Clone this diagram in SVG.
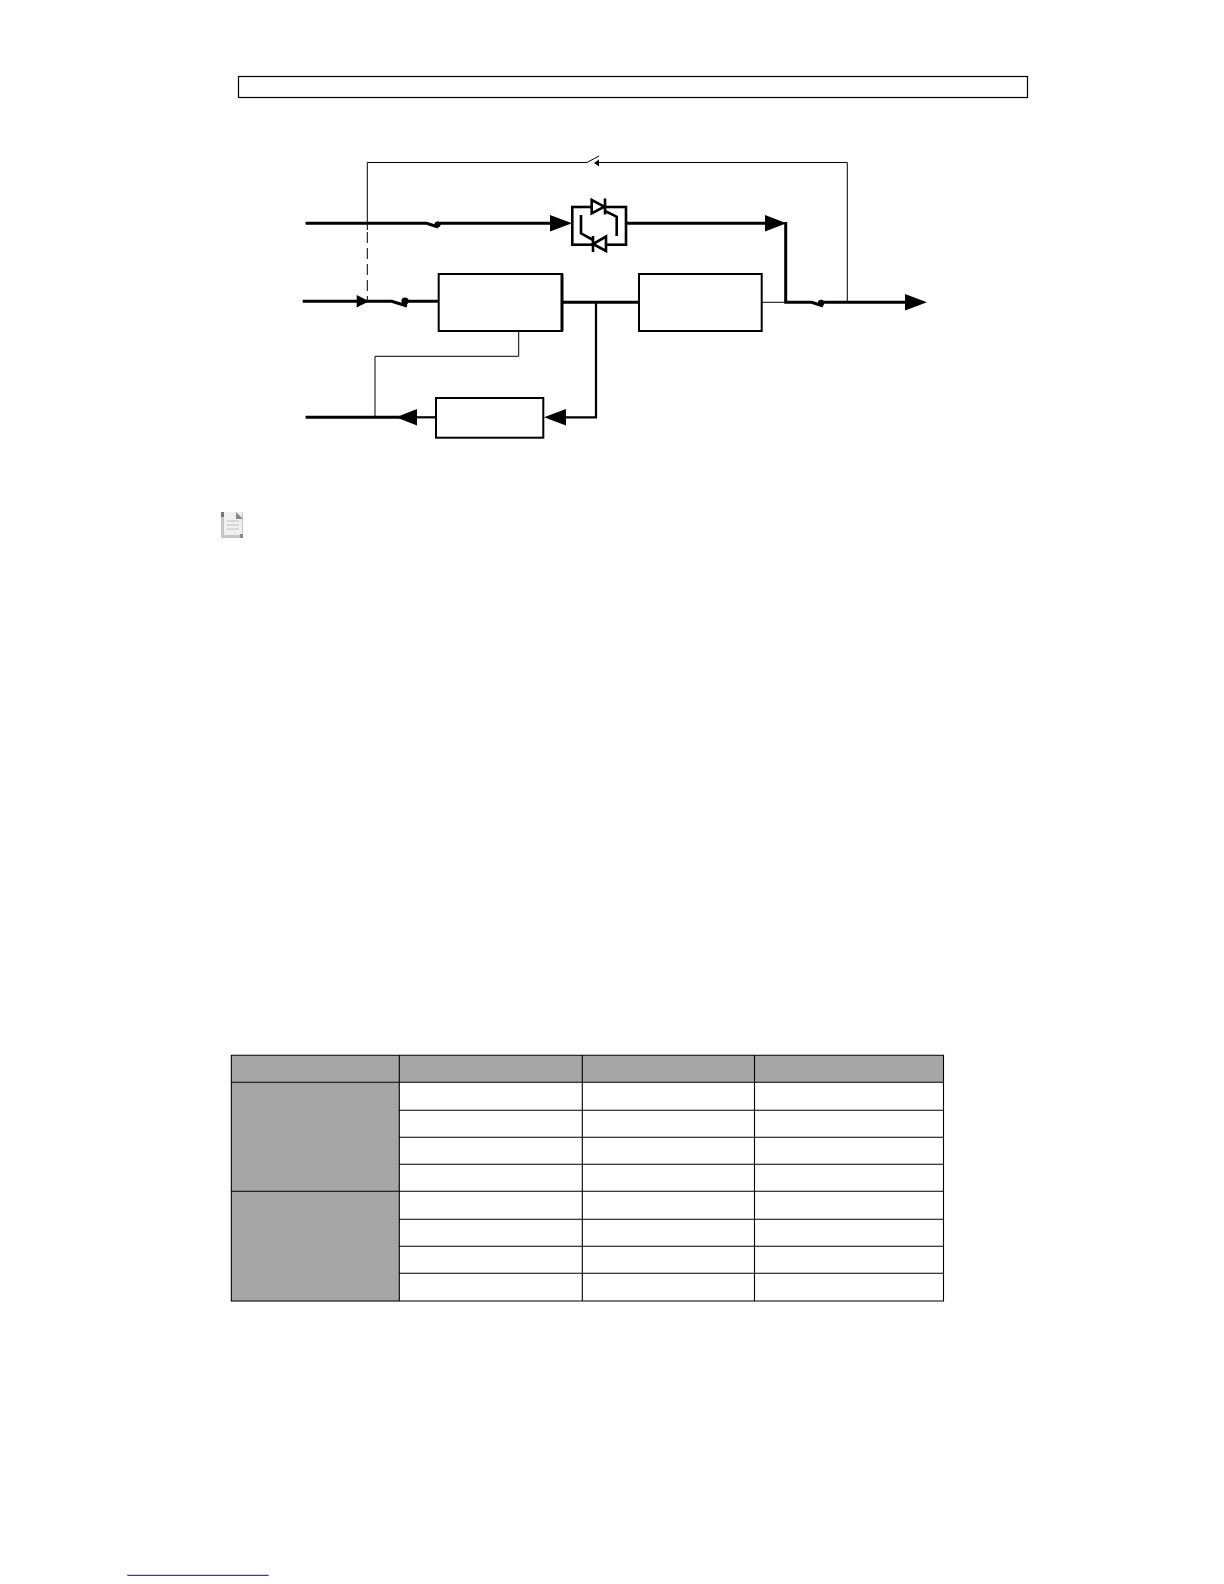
<svg xmlns="http://www.w3.org/2000/svg" width="1224" height="1584" viewBox="0 0 1224 1584">
<style>
.box{fill:#fff;stroke:#000;stroke-width:2}
.thin{fill:none;stroke:#000;stroke-width:1}
.thick{fill:none;stroke:#000;stroke-width:3}
.mid{fill:none;stroke:#000;stroke-width:2.2}
.thy{fill:none;stroke:#000;stroke-width:2.6}
.ah{fill:#000;stroke:none}
.g{fill:#a6a6a6;stroke:none}
.t{stroke:#000;stroke-width:1.1;fill:none}
</style>
<rect width="1224" height="1584" fill="#fff"/>
<g id="title-bar"><rect x="238.5" y="76.5" width="789" height="21" fill="#fff" stroke="#000" stroke-width="1.2"/></g>
<g id="connectors">
<path class="thin" d="M367.3 230V162.5H587L599 156"/>
<path class="thin" d="M597 162.5H847.3V302"/>
<path class="thin" d="M367.3 232V300" stroke-dasharray="11 5"/>
<path class="thick" d="M305.6 223.3H426.7L438 227"/>
<path class="thick" d="M437 223.3H552"/>
<path class="thick" d="M626 223.3H768"/>
<path class="thick" d="M785.7 222V302.3H811.7L823 306"/>
<path class="thick" d="M822 302.3H907"/>
<path class="thick" d="M302.7 301.3H391.7L407 306"/>
<path class="thick" d="M404 301.3H438"/>
<path class="thick" d="M562 302.3H639"/>
<path class="thin" d="M761.7 302.3H786"/>
<path class="mid" d="M596 302V417.3H563"/>
<path class="mid" d="M436 417.3H414"/>
<path class="thick" d="M400 417.3H305.6"/>
<path class="thin" d="M518.7 331V356.3H375V417"/>
<polygon class="ah" points="550,215 572,223.3 550,231.6"/>
<polygon class="ah" points="765,215 786.5,223.3 765,231.6"/>
<polygon class="ah" points="905,294 927,302.3 905,310.6"/>
<polygon class="ah" points="356.7,295 369,301.3 356.7,307.6"/>
<polygon class="ah" points="566,409 544,417.3 566,425.6"/>
<polygon class="ah" points="417,409 396,417.3 417,425.6"/>
<polygon class="ah" points="599,159.5 599,166.5 594,163"/>
<circle class="ah" cx="437.5" cy="224.5" r="3"/>
<circle class="ah" cx="405" cy="301" r="3.6"/>
<circle class="ah" cx="821" cy="303" r="3.2"/>
</g>
<g id="static-switch">
<rect class="thy" x="572.3" y="207" width="53.7" height="37.7"/>
<polygon points="591.7,200 591.7,213.3 604.3,206.7" fill="#fff" stroke="#000" stroke-width="2.6"/>
<path class="thy" d="M605 198.5V214.5M605 211L616.7 216.7V236"/>
<polygon points="606,236.5 606,251 593,244" fill="#fff" stroke="#000" stroke-width="2.6"/>
<path class="thy" d="M593 236V252M593 240L581 233.3V215"/>
</g>
<g id="rectifier"><rect class="box" x="438.7" y="274" width="123.3" height="57"/><path d="M562 274V331" stroke="#000" stroke-width="3"/></g>
<g id="inverter"><rect class="box" x="639" y="274" width="122.7" height="57"/></g>
<g id="charger"><rect class="box" x="436" y="398" width="107.3" height="39.7"/></g>
<g id="note-icon">
<rect x="221" y="512" width="22" height="26" fill="#c4c4c4"/>
<rect x="224" y="512" width="18" height="23" fill="#f0f0f0"/>
<path d="M236 512L243 519H236Z" fill="#8a8a8a"/>
<path d="M227 521H239M227 525H239M227 529H239" stroke="#c0c0c0" stroke-width="1.2"/>
<rect x="221" y="512" width="3" height="5" fill="#777"/>
<rect x="240" y="534" width="3" height="4" fill="#888"/>
</g>
<g id="table">
<rect class="g" x="231.3" y="1055.3" width="712.2" height="27"/>
<rect class="g" x="231.3" y="1082.3" width="168" height="219"/>
<path class="t" d="M231.3 1055.3H943.5V1301H231.3ZM399.3 1055.3V1301M582.3 1055.3V1301M754.5 1055.3V1301M231.3 1082.3H943.5M399.3 1110.3H943.5M399.3 1137.3H943.5M399.3 1164.3H943.5M231.3 1191.3H943.5M399.3 1219.3H943.5M399.3 1246.3H943.5M399.3 1273.3H943.5"/>
</g>
<g id="footer-link"><path d="M127.3 1575.3H268.7" stroke="#0a0a8c" stroke-width="1"/></g>
</svg>
